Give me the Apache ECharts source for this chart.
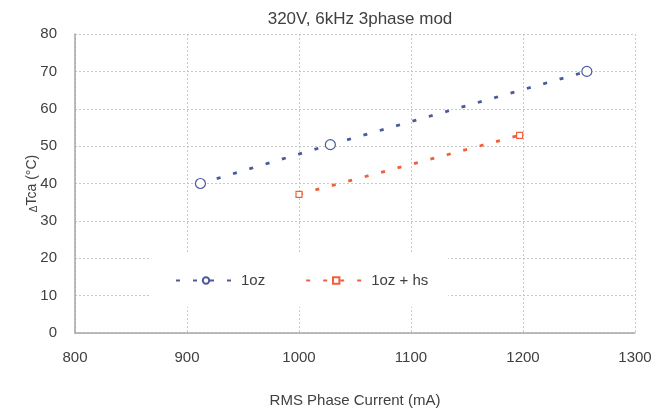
<!DOCTYPE html>
<html>
<head>
<meta charset="utf-8">
<script src="https://cdn.jsdelivr.net/npm/echarts@6/dist/echarts.min.js"></script>
<style>
  html, body { margin: 0; padding: 0; background: #fff; }
  #main { width: 657px; height: 411px; }
</style>
</head>
<body>
<div id="main"></div>
<script>
var xTicks = [800, 900, 1000, 1100, 1200, 1300];
var yTicks = [0, 10, 20, 30, 40, 50, 60, 70, 80];

var oz1Current = [912, 1028, 1257];
var oz1Temp = [40.0, 50.4, 70.0];

var ozHsCurrent = [1000, 1197];
var ozHsTemp = [37.1, 52.9];

function pairs(xs, ys) {
    var out = [];
    for (var i = 0; i < xs.length; i++) out.push([xs[i], ys[i]]);
    return out;
}

var myChart = echarts.init(document.getElementById('main'));
var gridLine = { show: true, lineStyle: { color: '#c8c8c8', type: [2, 2], width: 1 } };

option = {
    animation: false,
    textStyle: { fontFamily: 'Liberation Sans, Arial, sans-serif' },
    title: {
        text: '320V, 6kHz 3phase mod',
        left: 355,
        textAlign: 'center',
        top: 6,
        textStyle: { fontSize: 17, fontWeight: 'normal', color: '#404040' }
    },
    grid: { left: 75, right: 22, top: 34, bottom: 78, outerBoundsMode: 'none', containLabel: false },
    legend: {
        left: 150,
        top: 254,
        backgroundColor: '#fff',
        padding: [19, 20, 19, 25],
        itemGap: 40,
        itemWidth: 60,
        itemHeight: 8,
        textStyle: { fontSize: 15, color: '#404040' },
        data: ['1oz', '1oz + hs']
    },
    xAxis: {
        type: 'value',
        min: 800, max: 1300, interval: 100,
        name: 'RMS Phase Current (mA)',
        nameLocation: 'middle',
        nameGap: 60,
        nameMoveOverlap: false,
        nameTextStyle: { fontSize: 15, color: '#404040' },
        axisLine: { lineStyle: { color: '#a6a6a6', width: 1.5 } },
        axisTick: { show: false },
        axisLabel: {
            fontSize: 15, color: '#404040', margin: 17,
            formatter: function (v) { return String(v); }
        },
        splitLine: gridLine
    },
    yAxis: {
        type: 'value',
        min: 0, max: 80, interval: 10,
        name: '{d|Δ}Tca (°C)',
        nameLocation: 'middle',
        nameGap: 36,
        nameMoveOverlap: false,
        nameTextStyle: {
            fontSize: 14, color: '#404040',
            rich: { d: { fontSize: 10, color: '#404040', verticalAlign: 'bottom' } }
        },
        axisLine: { show: true, lineStyle: { color: '#a6a6a6', width: 1.5 } },
        axisTick: { show: false },
        axisLabel: { fontSize: 15, color: '#404040', margin: 18 },
        splitLine: gridLine
    },
    series: [
        {
            name: '1oz',
            type: 'line',
            data: pairs(oz1Current, oz1Temp),
            symbol: 'circle',
            symbolSize: 10,
            itemStyle: { color: '#fff', borderColor: '#4a5a9c', borderWidth: 1.2 },
            lineStyle: { color: '#4a5a9c', width: 2.8, type: [4, 13] },
            z: 3
        },
        {
            name: '1oz + hs',
            type: 'line',
            data: pairs(ozHsCurrent, ozHsTemp),
            symbol: 'rect',
            symbolSize: 6,
            itemStyle: { color: '#fff', borderColor: '#f0603c', borderWidth: 1.2 },
            lineStyle: { color: '#f0603c', width: 2.8, type: [4, 13] },
            z: 3
        }
    ]
};
myChart.setOption(option);
</script>
</body>
</html>
